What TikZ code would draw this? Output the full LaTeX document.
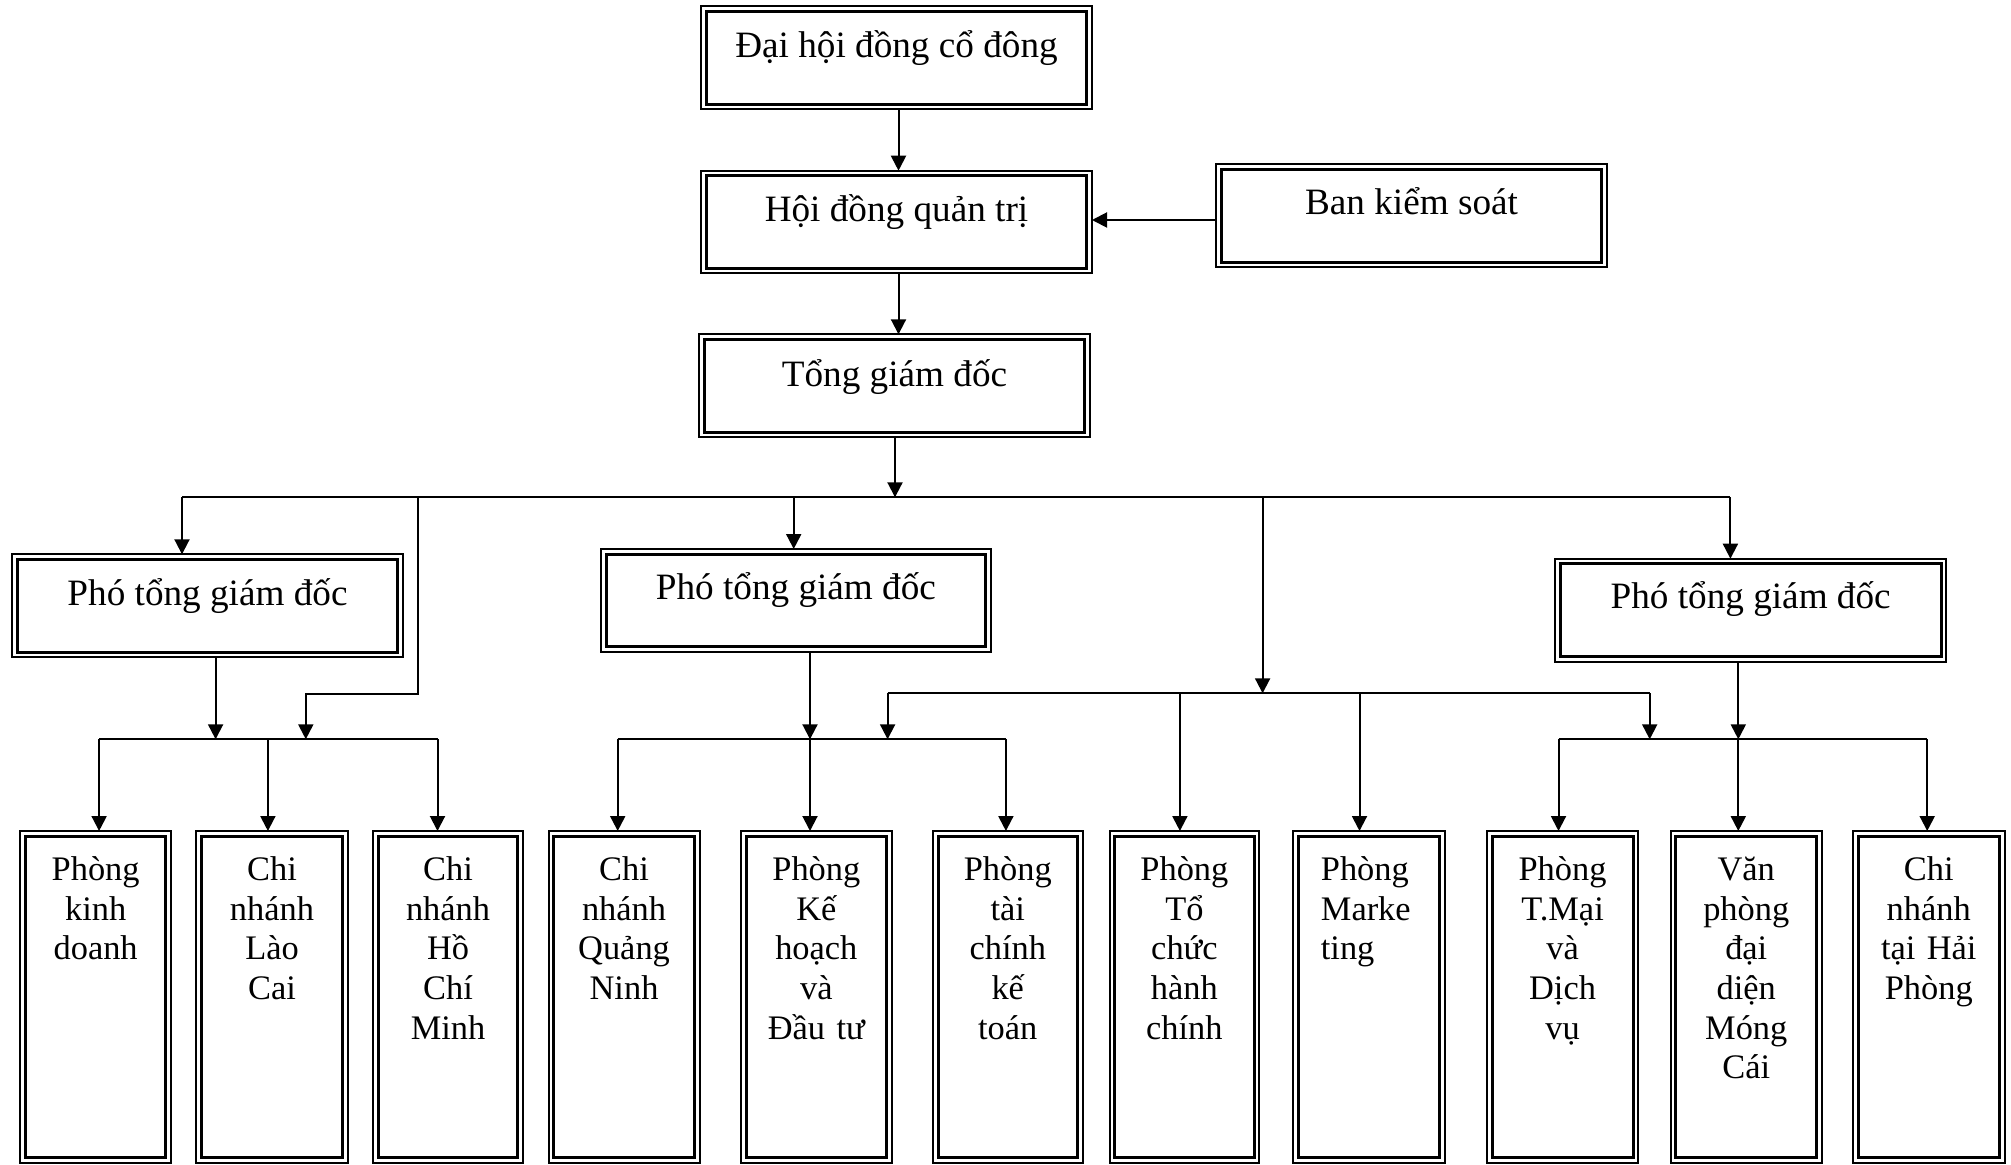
\documentclass[tikz,border=0pt]{standalone}
\usepackage{fontspec}
\setmainfont{Liberation Serif}
\usetikzlibrary{arrows.meta}
\tikzset{
  obox/.style={draw, line width=1pt, inner sep=0pt, outer sep=0pt, fill=white},
  ibox/.style={line width=1.5pt},
  conn/.style={line width=1pt},
  arr/.style={conn, -{Triangle[length=7.5pt,width=7.5pt]}},
  ttop/.style={font=\fontsize{18.6}{21.4}\selectfont, anchor=base, inner sep=0pt},
  tbot/.style={font=\fontsize{17.2}{19.85}\selectfont, text width=64pt, align=center, anchor=base, inner sep=0pt},
}
\newcommand\orgbox[5]{%
  \node[obox, minimum width={(#4-#2)*0.5pt}, minimum height={(#5-#3)*0.5pt}, anchor=north west] (#1) at (#2,#3) {};
  \draw[ibox] ([shift={(2.6pt,-2.6pt)}]#1.north west) rectangle ([shift={(-2.6pt,2.6pt)}]#1.south east);
}
\newcommand\boxtext[4]{%
  \node[#2] (#1-t) at ([yshift={-#3*0.5pt}]#1.north) {#4};
}
\begin{document}
\begin{tikzpicture}[x=0.5pt,y=-0.5pt]
\useasboundingbox (0,0) rectangle (2011,1165);

% top boxes
\orgbox{dh}{701}{6}{1092}{109.3}
\orgbox{hd}{701}{170.7}{1092}{273.3}
\orgbox{bks}{1216}{164}{1607}{267.3}
\orgbox{tgd}{699.4}{334.3}{1089.6}{437.3}
\boxtext{dh}{ttop}{52}{Đại hội đồng cổ đông}
\boxtext{hd}{ttop}{51.3}{Hội đồng quản trị}
\boxtext{bks}{ttop}{51}{Ban kiểm soát}
\boxtext{tgd}{ttop}{52.4}{Tổng giám đốc}

% deputies
\orgbox{p1}{12}{554.3}{403}{657.3}
\orgbox{p2}{600.8}{549}{991}{651.7}
\orgbox{p3}{1555}{558.7}{1946.3}{661.7}
\boxtext{p1}{ttop}{50.7}{Phó tổng giám đốc}
\boxtext{p2}{ttop}{50.3}{Phó tổng giám đốc}
\boxtext{p3}{ttop}{49.6}{Phó tổng giám đốc}

% bottom boxes
\orgbox{b1}{20.4}{831}{170.9}{1163}
\orgbox{b2}{196.4}{831}{347.6}{1163}
\orgbox{b3}{373.1}{831}{523}{1163}
\orgbox{b4}{548.5}{831}{699.6}{1163}
\orgbox{b5}{741.1}{831}{891.6}{1163}
\orgbox{b6}{933}{831}{1082.5}{1163}
\orgbox{b7}{1109.6}{831}{1259.2}{1163}
\orgbox{b8}{1293.4}{831}{1444.9}{1163}
\orgbox{b9}{1486.8}{831}{1638.3}{1163}
\orgbox{b10}{1670.5}{831}{1822}{1163}
\orgbox{b11}{1853}{831}{2004.5}{1163}
\boxtext{b1}{tbot}{49.3}{Phòng\\kinh\\doanh}
\boxtext{b2}{tbot}{49.3}{Chi\\nhánh\\Lào\\Cai}
\boxtext{b3}{tbot}{49.3}{Chi\\nhánh\\Hồ\\Chí\\Minh}
\boxtext{b4}{tbot}{49.3}{Chi\\nhánh\\Quảng\\Ninh}
\boxtext{b5}{tbot}{49.3}{Phòng\\Kế\\hoạch\\và\\Đầu tư}
\boxtext{b6}{tbot}{49.3}{Phòng\\tài\\chính\\kế\\toán}
\boxtext{b7}{tbot}{49.3}{Phòng\\Tổ\\chức\\hành\\chính}
\node[tbot, align=left, anchor=base west] (b8-t) at (1320.5,880.3) {Phòng\\Marke\\ting};
\boxtext{b9}{tbot}{49.3}{Phòng\\T.Mại\\và\\Dịch\\vụ}
\boxtext{b10}{tbot}{49.3}{Văn\\phòng\\đại\\diện\\Móng\\Cái}
\boxtext{b11}{tbot}{49.3}{Chi\\nhánh\\tại Hải\\Phòng}

% top connectors
\coordinate (vx) at (898.5,0);
\draw[arr] (dh.south -| vx) -- (hd.north -| vx);
\draw[arr] (bks.west |- 0,220) -- (hd.east |- 0,220);
\draw[arr] (hd.south -| vx) -- (tgd.north -| vx);

% main bus
\coordinate (busL) at (182,497.3);
\coordinate (busR) at (1730.4,497.3);
\coordinate (busT) at (895,497.3);
\coordinate (bus2) at (793.7,497.3);
\coordinate (busX) at (418,497.3);
\coordinate (busY) at (1262.6,497.3);
\draw[arr] (tgd.south -| busT) -- (busT);
\draw[conn] (busL) -- (busR);
\draw[arr] (busL) -- (busL |- p1.north);
\draw[arr] (bus2) -- (bus2 |- p2.north);
\draw[arr] (busR) -- (busR |- p3.north);

% group 1
\coordinate (s1L) at (99.1,739.3);
\coordinate (s1M) at (267.9,739.3);
\coordinate (s1R) at (437.5,739.3);
\coordinate (s1a) at (215.6,739.3);
\coordinate (s1b) at (305.8,739.3);
\coordinate (k1) at (305.8,694);
\draw[conn] (s1L) -- (s1R);
\draw[arr] (s1a |- p1.south) -- (s1a);
\draw[arr] (busX) |- (k1) -- (s1b);
\draw[arr] (s1L) -- (s1L |- b1.north);
\draw[arr] (s1M) -- (s1M |- b2.north);
\draw[arr] (s1R) -- (s1R |- b3.north);

% group 2
\coordinate (uL) at (887.6,693.3);
\coordinate (uR) at (1649.7,693.3);
\coordinate (uY) at (1262.6,693.3);
\coordinate (u7) at (1179.9,693.3);
\coordinate (u8) at (1359.5,693.3);
\coordinate (s2L) at (617.7,739.3);
\coordinate (s2M) at (810,739.3);
\coordinate (s2R) at (1005.9,739.3);
\coordinate (s2b) at (887.6,739.3);
\draw[arr] (busY) -- (uY);
\draw[conn] (uL) -- (uR);
\draw[arr] (uL) -- (s2b);
\draw[arr] (u7) -- (u7 |- b7.north);
\draw[arr] (u8) -- (u8 |- b8.north);
\draw[conn] (s2L) -- (s2R);
\draw[arr] (s2M |- p2.south) -- (s2M);
\draw[arr] (s2L) -- (s2L |- b4.north);
\draw[arr] (s2M) -- (s2M |- b5.north);
\draw[arr] (s2R) -- (s2R |- b6.north);

% group 3
\coordinate (s3L) at (1558.5,739.3);
\coordinate (s3M) at (1738.3,739.3);
\coordinate (s3R) at (1927.2,739.3);
\coordinate (s3u) at (1649.7,739.3);
\draw[conn] (s3L) -- (s3R);
\draw[arr] (uR) -- (s3u);
\draw[arr] (s3M |- p3.south) -- (s3M);
\draw[arr] (s3L) -- (s3L |- b9.north);
\draw[arr] (s3M) -- (s3M |- b10.north);
\draw[arr] (s3R) -- (s3R |- b11.north);
\end{tikzpicture}
\end{document}
